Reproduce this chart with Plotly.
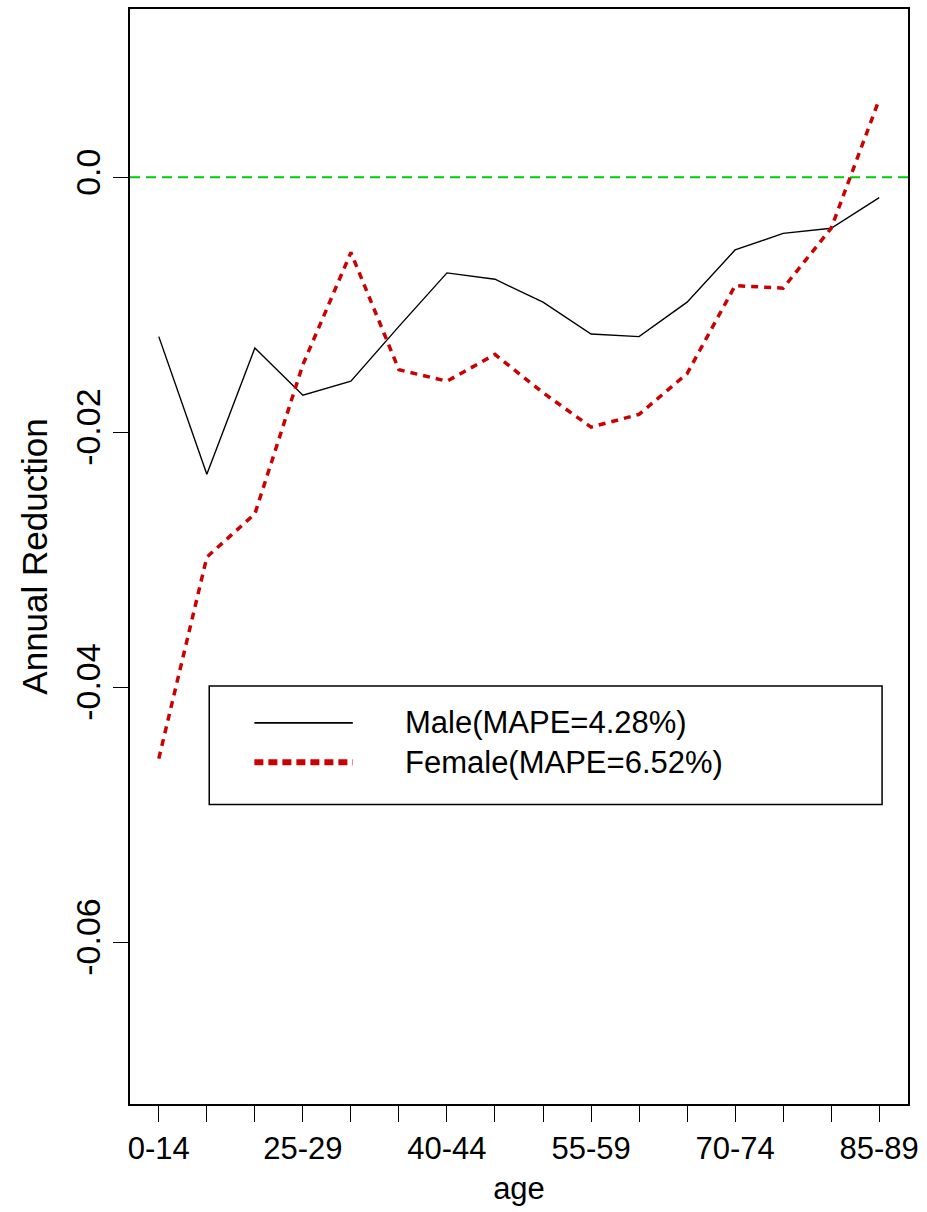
import plotly.graph_objects as go

# Age groups on the horizontal axis (only every third one is labelled)
age_groups = ["0-14", "15-19", "20-24", "25-29", "30-34", "35-39", "40-44", "45-49",
              "50-54", "55-59", "60-64", "65-69", "70-74", "75-79", "80-84", "85-89"]
age_labels = [g if i % 3 == 0 else "" for i, g in enumerate(age_groups)]

# Annual reduction by age group
male = [-0.0125, -0.0233, -0.0134, -0.0171, -0.0160, -0.0117, -0.0075, -0.0080,
        -0.0098, -0.0123, -0.0125, -0.0098, -0.0057, -0.0044, -0.0040, -0.0016]
female = [-0.0456, -0.0298, -0.0264, -0.0147, -0.0059, -0.0151, -0.0160, -0.0139,
          -0.0169, -0.0196, -0.0186, -0.0154, -0.0085, -0.0087, -0.0040, 0.0061]

series_names = ["Male(MAPE=4.28%)", "Female(MAPE=6.52%)"]

y_ticks = [0.0, -0.02, -0.04, -0.06]
y_tick_text = ["0.0", "-0.02", "-0.04", "-0.06"]

x_pos = list(range(1, len(age_groups) + 1))

FONT = "Liberation Sans, Arial, Helvetica, sans-serif"
RED = "#CC0000"
GREEN = "#00CD00"

fig = go.Figure()

fig.add_trace(go.Scatter(
    x=x_pos, y=male, mode="lines", name=series_names[0], showlegend=False,
    line=dict(color="black", width=1.4),
))
fig.add_trace(go.Scatter(
    x=x_pos, y=female, mode="lines", name=series_names[1], showlegend=False,
    line=dict(color=RED, width=3.5, dash="7px,6px"),
))

# zero reference line
fig.add_shape(type="line", xref="paper", x0=0, x1=1, yref="y", y0=0, y1=0,
              line=dict(color=GREEN, width=1.8, dash="10px,6px"), layer="below")

# legend box drawn in data coordinates
leg_x0, leg_x1 = 2.05, 16.06
leg_y0, leg_y1 = -0.0492, -0.0399
fig.add_shape(type="rect", xref="x", yref="y", x0=leg_x0, x1=leg_x1, y0=leg_y0, y1=leg_y1,
              line=dict(color="black", width=1.5), fillcolor="white", layer="above")
leg_rows = [-0.0428, -0.0459]
leg_styles = [dict(color="black", width=1.6),
              dict(color=RED, width=6, dash="9px,5px")]
for row_y, style, label in zip(leg_rows, leg_styles, series_names):
    fig.add_shape(type="line", xref="x", yref="y", x0=2.99, x1=5.04, y0=row_y, y1=row_y,
                  line=style, layer="above")
    fig.add_annotation(x=6.08, y=row_y, xref="x", yref="y", text=label, showarrow=False,
                       xanchor="left", yanchor="middle",
                       font=dict(family=FONT, size=31, color="black"))

fig.update_xaxes(
    range=[0.4, 16.6], tickmode="array", tickvals=x_pos, ticktext=age_labels,
    ticks="outside", ticklen=16, tickwidth=1.2, tickcolor="black",
    showline=True, linecolor="black", linewidth=1.5, mirror=True,
    showgrid=False, zeroline=False,
    tickfont=dict(family=FONT, size=31, color="black"),
    title=dict(text="age", font=dict(family=FONT, size=31, color="black"), standoff=12),
)
fig.update_yaxes(
    range=[-0.0727, 0.0132], tickmode="array", tickvals=y_ticks, ticktext=y_tick_text,
    tickangle=-90, ticks="outside", ticklen=15, tickwidth=1.2, tickcolor="black",
    showline=True, linecolor="black", linewidth=1.5, mirror=True,
    showgrid=False, zeroline=False,
    tickfont=dict(family=FONT, size=34, color="black"),
    title=dict(text="Annual Reduction", font=dict(family=FONT, size=35, color="black"),
               standoff=10),
)

fig.update_layout(
    width=927, height=1212,
    margin=dict(l=130, r=19, t=7, b=108),
    plot_bgcolor="white", paper_bgcolor="white",
    showlegend=False,
)

fig.write_html("out.html")
